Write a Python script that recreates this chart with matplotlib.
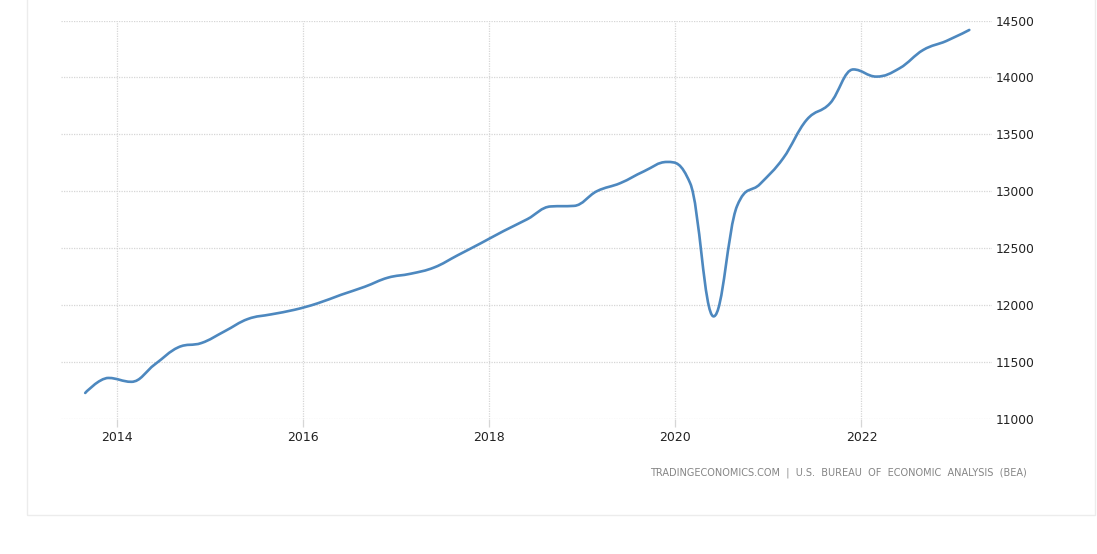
#!/usr/bin/env python3
"""Quarterly BEA series, 2013Q3-2023Q1, drawn as a smooth spline in a
TradingEconomics-style frame. Writes out.png (1097x554)."""

import matplotlib
matplotlib.use("Agg")
import matplotlib.dates as mdates
import matplotlib.pyplot as plt
import numpy as np
import pandas as pd
from matplotlib.patches import PathPatch, Rectangle
from matplotlib.path import Path

QUARTERS = [
    "2013Q3", "2013Q4",
    "2014Q1", "2014Q2", "2014Q3", "2014Q4",
    "2015Q1", "2015Q2", "2015Q3", "2015Q4",
    "2016Q1", "2016Q2", "2016Q3", "2016Q4",
    "2017Q1", "2017Q2", "2017Q3", "2017Q4",
    "2018Q1", "2018Q2", "2018Q3", "2018Q4",
    "2019Q1", "2019Q2", "2019Q3", "2019Q4",
    "2020Q1", "2020Q2", "2020Q3", "2020Q4",
    "2021Q1", "2021Q2", "2021Q3", "2021Q4",
    "2022Q1", "2022Q2", "2022Q3", "2022Q4",
    "2023Q1",
]
VALUES = [
    11227, 11359,
    11325, 11478, 11628, 11666,
    11768, 11877, 11918, 11958,
    12015, 12090, 12160, 12240,
    12275, 12330, 12437, 12543,
    12651, 12754, 12866, 12871,
    13000, 13071, 13174, 13257,
    13070, 11900, 12870, 13065,
    13290, 13627, 13773, 14070,
    14007, 14081, 14241, 14320,
    14417,
]
YTICKS = [11000, 11500, 12000, 12500, 13000, 13500, 14000, 14500]
SOURCE = "TRADINGECONOMICS.COM  |  U.S.  BUREAU  OF  ECONOMIC  ANALYSIS  (BEA)"

LINE_COLOR = "#4d88bf"
GRID_COLOR = "#d6d6d6"


def spline_path(x, y, smoothing=1.5):
    """Cubic Bezier path through the points, Highcharts 'spline' style."""
    n = len(x)
    denom = smoothing + 1
    lcx, lcy = x.copy(), y.copy()
    rcx, rcy = x.copy(), y.copy()
    for i in range(1, n - 1):
        px, py = x[i], y[i]
        lx, ly, nx, ny = x[i - 1], y[i - 1], x[i + 1], y[i + 1]
        a_x = (smoothing * px + lx) / denom
        a_y = (smoothing * py + ly) / denom
        b_x = (smoothing * px + nx) / denom
        b_y = (smoothing * py + ny) / denom
        if b_x != a_x:
            corr = (b_y - a_y) * (b_x - px) / (b_x - a_x) + py - b_y
            a_y += corr
            b_y += corr
        if a_y > ly and a_y > py:
            a_y = max(ly, py)
            b_y = 2 * py - a_y
        elif a_y < ly and a_y < py:
            a_y = min(ly, py)
            b_y = 2 * py - a_y
        if b_y > ny and b_y > py:
            b_y = max(ny, py)
            a_y = 2 * py - b_y
        elif b_y < ny and b_y < py:
            b_y = min(ny, py)
            a_y = 2 * py - b_y
        lcx[i], lcy[i], rcx[i], rcy[i] = a_x, a_y, b_x, b_y
    verts = [(x[0], y[0])]
    codes = [Path.MOVETO]
    for i in range(1, n):
        verts += [(rcx[i - 1], rcy[i - 1]), (lcx[i], lcy[i]), (x[i], y[i])]
        codes += [Path.CURVE4] * 3
    return Path(verts, codes)


# quarter plotted at the end of its middle month
periods = pd.PeriodIndex(QUARTERS, freq="Q")
dates = [(p.start_time + pd.DateOffset(months=2)) - pd.Timedelta(days=1) for p in periods]
xs = mdates.date2num(dates)
ys = np.array(VALUES, dtype=float)

fig = plt.figure(figsize=(10.97, 5.54), dpi=100)
fig.patch.set_facecolor("white")

# light outer frame
fig.add_artist(Rectangle((27 / 1097, 39 / 554), (1095 - 27) / 1097, 1.2,
                         transform=fig.transFigure, fill=False,
                         edgecolor="#ececec", linewidth=1.0))

ax = fig.add_axes([61 / 1097, 135.2 / 554, (992 - 61) / 1097, (418.8 - 20.5) / 554])
ax.add_patch(PathPatch(spline_path(xs, ys), facecolor="none",
                       edgecolor=LINE_COLOR, linewidth=1.9,
                       capstyle="round", joinstyle="round", zorder=3))

ax.set_xlim(mdates.datestr2num("2013-05-28"), mdates.datestr2num("2023-05-28"))
ax.set_ylim(11000, 14500)

ax.xaxis.set_major_locator(mdates.YearLocator(2))
ax.xaxis.set_major_formatter(mdates.DateFormatter("%Y"))
ax.set_yticks(YTICKS)
ax.yaxis.tick_right()

ax.grid(True, color=GRID_COLOR, linestyle=(0, (1, 1)), linewidth=0.9)
for s in ax.spines.values():
    s.set_visible(False)

ax.tick_params(axis="x", length=6, color=GRID_COLOR, width=0.9, pad=3,
               labelsize=9, labelcolor="#222222")
ax.tick_params(axis="y", length=0, pad=3, labelsize=8.8, labelcolor="#222222")

fig.text(1027 / 1097, 1 - 473 / 554, SOURCE, ha="right", va="center",
         fontsize=7.0, color="#858585")

fig.savefig("out.png", dpi=100, facecolor="white")
